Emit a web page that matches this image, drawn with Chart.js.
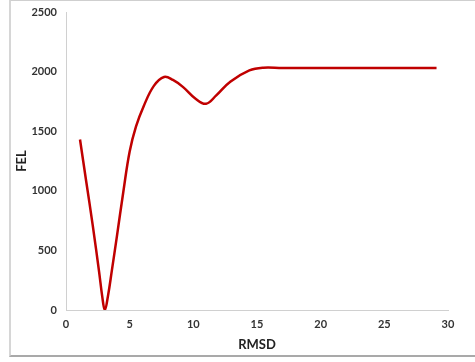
<!DOCTYPE html>
<html>
<head>
<meta charset="utf-8">
<script src="https://cdn.jsdelivr.net/npm/chart.js@4"></script>
<style>
  html, body { margin: 0; padding: 0; background: #fff; overflow: hidden; }
  #frame {
    position: absolute; left: 9px; top: -1px; width: 480px; height: 358px;
    box-sizing: border-box;
    border-top: 2px solid #cfcfcf;
    border-left: 2px solid #d6d6d6;
    border-bottom: 2px solid #a9a9a9;
  }
  #myChart { position: absolute; left: 0; top: 0; }
</style>
</head>
<body>
<div id="frame"></div>
<canvas id="myChart" width="475" height="362"></canvas>
<script>
// free energy profile along RMSD
const rmsd = [1.1, 1.6, 2.1, 2.6, 2.85, 3.05, 3.3, 3.6, 4.0, 4.5, 5.0, 5.5, 6.1, 6.9, 7.7, 8.4, 9.2, 10.2, 11.0, 11.8, 12.9, 14.4, 15.5, 17.0, 20.0, 25.0, 29.1];
const fel = [1430, 1070, 710, 320, 110, 0, 120, 330, 620, 990, 1330, 1540, 1710, 1880, 1955, 1930, 1870, 1770, 1730, 1800, 1915, 2010, 2033, 2030, 2030, 2030, 2030];
const xTicks = [0, 5, 10, 15, 20, 25, 30];
const yTicks = [0, 500, 1000, 1500, 2000, 2500];

const points = rmsd.map((x, i) => ({ x: x, y: fel[i] }));
const tickFont = { family: "Lato", size: 11, weight: "bold" };
const titleFont = { family: "Lato", size: 13, weight: "bold" };

const ctx = document.getElementById("myChart").getContext("2d");
new Chart(ctx, {
  type: "line",
  data: {
    datasets: [{
      data: points,
      borderColor: "#c00000",
      borderWidth: 2.5,
      pointRadius: 0,
      fill: false,
      tension: 0.4
    }]
  },
  options: {
    responsive: false,
    animation: false,
    layout: { padding: { top: 12, right: 27, bottom: 5, left: 10 } },
    scales: {
      x: {
        type: "linear",
        min: 0,
        max: 30,
        afterBuildTicks: (axis) => { axis.ticks = xTicks.map(v => ({ value: v })); },
        afterFit: (axis) => { axis.height = 47; },
        grid: { display: false, drawOnChartArea: false, tickLength: 4, color: "#c8c8c8" },
        border: { color: "#d0d0d0", width: 1 },
        ticks: { color: "#333", font: tickFont, padding: 4, maxRotation: 0, callback: (v) => String(v) },
        title: { display: true, text: "RMSD", color: "#222", font: titleFont, padding: { top: 0 } }
      },
      y: {
        min: 0,
        max: 2500,
        afterBuildTicks: (axis) => { axis.ticks = yTicks.map(v => ({ value: v })); },
        afterFit: (axis) => { axis.width = 56; },
        grid: { display: false, drawOnChartArea: false, tickLength: 4, color: "#c8c8c8" },
        border: { color: "#d0d0d0", width: 1 },
        ticks: { color: "#333", font: tickFont, padding: 5, callback: (v) => String(v) },
        title: { display: true, text: "FEL", color: "#222", font: titleFont, padding: { bottom: 2 } }
      }
    },
    plugins: {
      legend: { display: false },
      title: { display: false },
      tooltip: { enabled: false }
    }
  }
});
</script>
</body>
</html>
